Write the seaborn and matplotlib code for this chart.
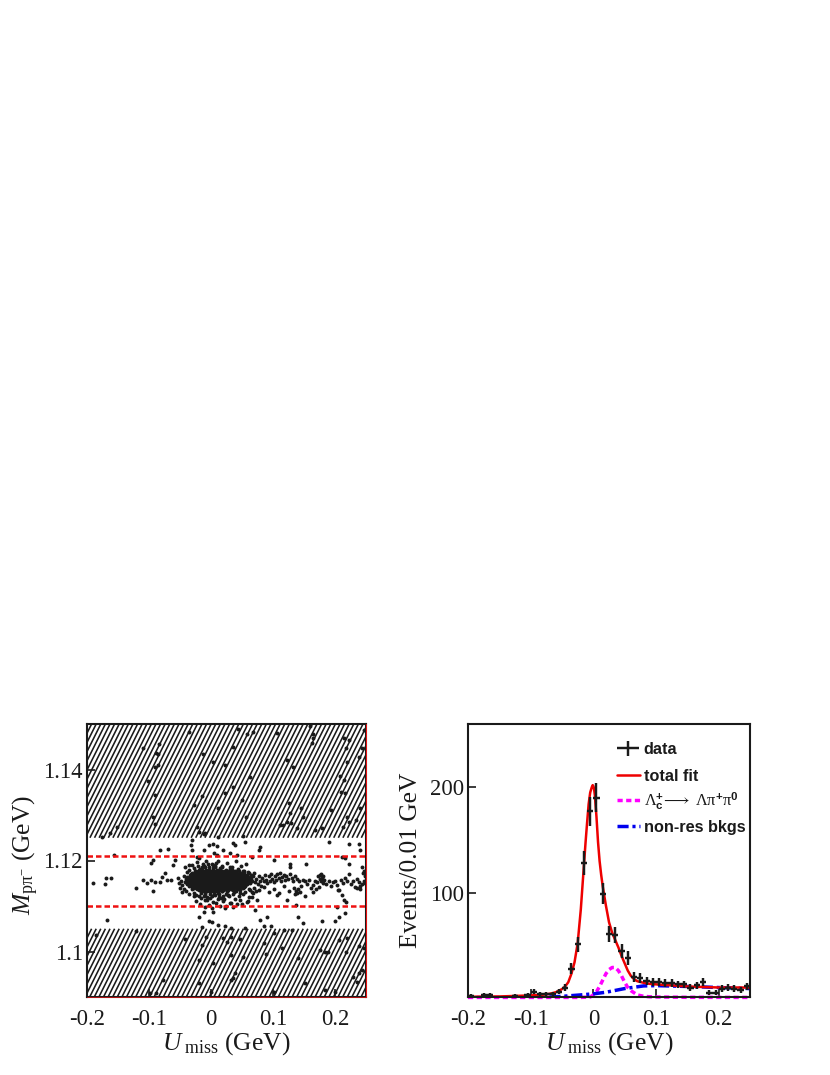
import matplotlib
matplotlib.use("Agg")
import numpy as np
import pandas as pd
import seaborn as sns
import matplotlib.pyplot as plt
from matplotlib.collections import LineCollection
from matplotlib.container import ErrorbarContainer
from matplotlib.legend_handler import HandlerErrorbar

sns.set_theme(style="ticks")
plt.rcParams['font.family'] = ['Liberation Serif', 'DejaVu Serif']
plt.rcParams['text.color'] = 'k'
plt.rcParams['mathtext.fontset'] = 'custom'
plt.rcParams['mathtext.rm'] = 'Liberation Serif'
plt.rcParams['mathtext.it'] = 'Liberation Serif:italic'
plt.rcParams['mathtext.bf'] = 'Liberation Sans:bold'
plt.rcParams['mathtext.fallback'] = 'stix'

# ---- scatter panel: points ----
upper_x = [-0.176,-0.163,-0.152,-0.110,-0.084,-0.088,-0.085,-0.091,-0.085,-0.101,-0.090,-0.093,-0.091,-0.036,-0.013,0.004,0.023,0.036,0.044,0.058,0.067,0.063,0.036,0.023,-0.015,-0.027,0.012,0.050,0.057,-0.023,-0.020,-0.012,-0.010,-0.030,0.012,0.052,0.106,0.122,0.133,0.125,0.145,0.149,0.128,0.111,0.116,0.122,0.129,0.138,0.168,0.179,0.160,0.164,0.163,0.165,0.215,0.222,0.218,0.243,0.238,0.247,0.220,0.208,0.214,0.209,0.216,0.241,0.193,0.219,0.222,0.234,0.213]
upper_y = [1.1252,1.1261,1.1273,1.1448,1.1455,1.1436,1.1433,1.1405,1.1410,1.1375,1.1344,1.1296,1.1280,1.1483,1.1433,1.1417,1.1410,1.1450,1.1490,1.1479,1.1483,1.1384,1.1362,1.1348,1.1342,1.1322,1.1316,1.1333,1.1296,1.1273,1.1263,1.1258,1.1261,1.1246,1.1252,1.1254,1.1481,1.1421,1.1406,1.1327,1.1315,1.1295,1.1304,1.1278,1.1278,1.1285,1.1283,1.1271,1.1267,1.1271,1.1496,1.1478,1.1458,1.1469,1.1469,1.1465,1.1447,1.1447,1.1428,1.1487,1.1417,1.1386,1.1378,1.1351,1.1349,1.1315,1.1311,1.1296,1.1285,1.1289,1.1273]

lower_x = [-0.185,-0.121,-0.042,-0.008,0.020,0.033,0.025,0.047,-0.015,0.085,0.101,0.117,0.130,0.114,0.089,0.052,0.033,-0.019,0.003,0.141,0.176,0.184,0.188,0.207,0.219,0.238,0.247,0.218,0.243,0.238,0.229,0.235,0.039,0.036,0.032,-0.020,-0.077,-0.088,-0.099,0.000,0.101,0.200,0.152,0.184]
lower_y = [1.1036,1.1046,1.1027,1.1031,1.1029,1.1032,1.1021,1.1027,1.1014,1.1019,1.1040,1.1047,1.1047,1.1007,1.0994,1.0987,1.0992,1.0981,1.0974,1.0985,1.1003,1.0998,1.0999,1.1025,1.1029,1.1012,1.1007,1.0999,1.0960,1.0952,1.0944,1.0933,1.0952,1.0941,1.0937,1.0930,1.0937,1.0908,1.0909,1.0911,1.0910,1.0910,1.0930,1.0915]

band_x = [-0.190,-0.171,-0.169,-0.161,-0.156,-0.167,-0.121,-0.110,-0.103,-0.097,-0.094,-0.090,-0.082,-0.079,-0.074,-0.071,-0.064,-0.096,-0.093,-0.082,-0.070,-0.058,-0.061,-0.053,-0.051,-0.050,-0.047,-0.042,-0.036,-0.031,-0.033,-0.023,-0.020,-0.012,-0.004,0.004,0.010,0.005,0.009,0.020,0.035,0.039,0.031,0.042,0.055,0.079,0.077,0.066,0.101,0.128,0.127,0.153,0.190,0.222,0.238,0.241,0.211,0.216,0.222,0.243,
          -0.020,-0.012,-0.004,0.001,0.003,-0.015,0.012,0.023,0.033,0.031,0.023,0.055,0.071,0.079,0.090,0.085,0.096,0.140,0.148,0.179,0.200,0.207,0.216,0.203,0.214,0.218,0.152,0.137,0.122,0.106,0.066,0.074,
          -0.030,-0.022,-0.012,-0.008,0.002,0.012,0.018,0.026,0.034,0.040,0.048,0.056,-0.028,-0.016,-0.006,0.006,0.016,0.028,0.038,0.052,0.062,-0.024,-0.010,0.004,0.020,0.033,0.046,0.058,-0.018,-0.004,0.008,0.024,0.042,0.060,-0.010,0.002,0.014,0.036,0.050,0.066]
band_y = [1.1150,1.1148,1.1161,1.1162,1.1212,1.1070,1.1140,1.1157,1.1150,1.1157,1.1133,1.1153,1.1153,1.1164,1.1172,1.1157,1.1158,1.1194,1.1201,1.1223,1.1225,1.1201,1.1190,1.1161,1.1150,1.1139,1.1131,1.1186,1.1190,1.1222,1.1234,1.1208,1.1205,1.1223,1.1234,1.1236,1.1232,1.1216,1.1212,1.1222,1.1238,1.1234,1.1216,1.1212,1.1241,1.1229,1.1223,1.1208,1.1201,1.1192,1.1186,1.1192,1.1241,1.1236,1.1236,1.1223,1.1208,1.1205,1.1192,1.1186,
          1.1076,1.1087,1.1067,1.1065,1.1087,1.1053,1.1058,1.1056,1.1051,1.1107,1.1095,1.1051,1.1091,1.1069,1.1075,1.1055,1.1055,1.1075,1.1062,1.1068,1.1068,1.1075,1.1084,1.1098,1.1113,1.1109,1.1122,1.1102,1.1113,1.1124,1.1120,1.1113,
          1.1190,1.1196,1.1188,1.1200,1.1193,1.1199,1.1187,1.1194,1.1186,1.1198,1.1189,1.1193,1.1122,1.1128,1.1119,1.1125,1.1117,1.1124,1.1116,1.1127,1.1120,1.1110,1.1113,1.1108,1.1112,1.1106,1.1114,1.1109,1.1105,1.1102,1.1107,1.1101,1.1104,1.1112,1.1098,1.1096,1.1100,1.1097,1.1104,1.1130]

tail_x = [0.060,0.063,0.066,0.068,0.071,0.073,0.075,0.077,0.079,0.081,0.083,0.085,0.087,0.089,0.091,0.093,0.095,0.097,0.099,0.101,0.103,0.105,0.107,0.109,0.111,0.113,0.115,0.117,0.119,0.121,0.124,0.127,0.130,0.133,0.136,0.139,0.142,0.145,0.148,0.062,0.070,0.078,0.086,0.094,0.102,0.110,0.118,0.126,0.134,0.137,0.141,0.143,0.139,0.135,0.152,0.155,0.158,0.161,0.165,0.168,0.171,0.173,0.175,0.176,0.178,0.179,0.181,0.183,0.174,0.177,0.180,0.186,0.190,0.193,0.197,0.200,0.203,0.207,0.210,0.213,0.216,0.219,0.222,0.226,0.229,0.232,0.235,0.238,0.241,0.243,0.245,0.247,0.248,0.249,0.246,0.240,0.236,0.164,0.169,0.212,0.205]
tail_y = [1.1160,1.1150,1.1155,1.1165,1.1152,1.1160,1.1148,1.1165,1.1156,1.1143,1.1162,1.1155,1.1168,1.1158,1.1150,1.1165,1.1156,1.1170,1.1160,1.1152,1.1166,1.1158,1.1170,1.1161,1.1172,1.1155,1.1163,1.1168,1.1158,1.1166,1.1160,1.1170,1.1162,1.1156,1.1165,1.1160,1.1155,1.1145,1.1157,1.1138,1.1140,1.1135,1.1142,1.1130,1.1138,1.1128,1.1143,1.1132,1.1140,1.1134,1.1137,1.1131,1.1129,1.1127,1.1155,1.1148,1.1157,1.1140,1.1146,1.1156,1.1152,1.1165,1.1160,1.1168,1.1155,1.1162,1.1150,1.1158,1.1142,1.1170,1.1166,1.1149,1.1154,1.1145,1.1152,1.1156,1.1147,1.1135,1.1158,1.1150,1.1162,1.1155,1.1170,1.1148,1.1155,1.1142,1.1160,1.1152,1.1138,1.1148,1.1172,1.1155,1.1165,1.1150,1.1178,1.1145,1.1140,1.1130,1.1138,1.1125,1.1135]

# loose points hugging the dense core
fringe_x = [-0.046,-0.044,-0.048,-0.043,-0.039,-0.036,-0.033,-0.040,-0.035,-0.031,-0.027,-0.024,-0.028,-0.021,-0.017,-0.025,-0.019,-0.013,-0.016,-0.009,-0.005,-0.011,-0.002,0.003,-0.007,0.007,0.011,0.001,0.015,0.019,0.008,0.023,0.027,0.013,0.031,0.035,0.021,0.039,0.043,0.029,0.047,0.051,0.037,0.055,0.059,0.045,0.063,0.067,0.069,0.072,-0.034,-0.026,-0.018,-0.008,0.003,0.012,0.022,0.033,0.044,0.054,-0.030,-0.015,-0.001,0.016,0.030,0.047]
fringe_y = [1.1146,1.1137,1.1155,1.1165,1.1174,1.1180,1.1170,1.1132,1.1127,1.1137,1.1184,1.1176,1.1128,1.1188,1.1181,1.1124,1.1121,1.1192,1.1118,1.1186,1.1193,1.1122,1.1118,1.1190,1.1114,1.1188,1.1116,1.1121,1.1184,1.1121,1.1195,1.1178,1.1124,1.1119,1.1182,1.1126,1.1115,1.1176,1.1181,1.1122,1.1128,1.1178,1.1131,1.1131,1.1174,1.1121,1.1135,1.1128,1.1172,1.1134,1.1163,1.1143,1.1173,1.1135,1.1183,1.1128,1.1168,1.1137,1.1166,1.1141,1.1152,1.1160,1.1147,1.1154,1.1146,1.1158]

# dense core, row by row (row y value, then the x of the points on it)
core_row_y = [1.1185,1.1180,1.1176,1.1172,1.1168,1.1164,1.1160,1.1156,1.1152,1.1148,1.1144,1.1140,1.1136,1.1132,1.1127,
              1.1174,1.1170,1.1166,1.1162,1.1158,1.1154,1.1150,1.1146,1.1142,1.1138,1.1134]
core_row_x = [
 [-0.014,-0.004,0.006,0.018,0.030],
 [-0.020,-0.014,-0.008,-0.003,0.003,0.009,0.015,0.024,0.034,0.044],
 [-0.026,-0.020,-0.016,-0.012,-0.008,-0.004,0.000,0.004,0.008,0.012,0.017,0.023,0.029,0.036,0.045,0.053],
 [-0.030,-0.025,-0.021,-0.018,-0.015,-0.012,-0.009,-0.006,-0.003,0.000,0.003,0.006,0.009,0.012,0.015,0.019,0.023,0.027,0.031,0.036,0.041,0.047,0.054,0.061],
 [-0.034,-0.029,-0.025,-0.022,-0.019,-0.016,-0.013,-0.010,-0.007,-0.004,-0.001,0.002,0.005,0.008,0.011,0.014,0.017,0.020,0.023,0.026,0.029,0.032,0.036,0.040,0.044,0.048,0.053,0.058,0.064],
 [-0.038,-0.033,-0.029,-0.026,-0.023,-0.020,-0.017,-0.014,-0.011,-0.008,-0.005,-0.002,0.001,0.004,0.007,0.010,0.013,0.016,0.019,0.022,0.025,0.028,0.031,0.034,0.037,0.040,0.043,0.046,0.050,0.054,0.058,0.063],
 [-0.041,-0.036,-0.031,-0.028,-0.025,-0.022,-0.019,-0.016,-0.013,-0.010,-0.007,-0.004,-0.001,0.002,0.005,0.008,0.011,0.014,0.017,0.020,0.023,0.026,0.029,0.032,0.035,0.038,0.041,0.044,0.047,0.050,0.053,0.056,0.060,0.065],
 [-0.040,-0.035,-0.030,-0.027,-0.024,-0.021,-0.018,-0.015,-0.012,-0.009,-0.006,-0.003,0.000,0.003,0.006,0.009,0.012,0.015,0.018,0.021,0.024,0.027,0.030,0.033,0.036,0.039,0.042,0.045,0.048,0.051,0.054,0.058,0.063],
 [-0.042,-0.036,-0.031,-0.027,-0.024,-0.021,-0.018,-0.015,-0.012,-0.009,-0.006,-0.003,0.000,0.003,0.006,0.009,0.012,0.015,0.018,0.021,0.024,0.027,0.030,0.033,0.036,0.039,0.042,0.045,0.049,0.053,0.057,0.062],
 [-0.038,-0.032,-0.027,-0.023,-0.020,-0.017,-0.014,-0.011,-0.008,-0.005,-0.002,0.001,0.004,0.007,0.010,0.013,0.016,0.019,0.022,0.025,0.028,0.032,0.036,0.040,0.044,0.048,0.053,0.058],
 [-0.036,-0.029,-0.024,-0.020,-0.016,-0.013,-0.010,-0.007,-0.004,-0.001,0.002,0.005,0.008,0.011,0.014,0.017,0.020,0.024,0.028,0.033,0.038,0.043,0.049,0.055],
 [-0.028,-0.021,-0.016,-0.012,-0.008,-0.004,0.000,0.004,0.008,0.012,0.016,0.020,0.025,0.031,0.037,0.045,0.052],
 [-0.020,-0.014,-0.009,-0.004,0.001,0.005,0.009,0.014,0.020,0.027,0.035,0.047],
 [-0.016,-0.008,-0.002,0.004,0.010,0.017,0.026,0.041],
 [-0.010,-0.001,0.005,0.013,0.024],
 [-0.018,-0.010,-0.002,0.006,0.014,0.021,0.026,0.033,0.039],
 [-0.027,-0.019,-0.011,-0.005,0.001,0.007,0.013,0.018,0.025,0.030,0.034,0.038,0.044,0.050],
 [-0.031,-0.024,-0.018,-0.012,-0.006,0.000,0.006,0.012,0.018,0.024,0.030,0.035,0.039,0.042,0.046,0.051,0.056],
 [-0.034,-0.027,-0.021,-0.015,-0.009,-0.003,0.003,0.009,0.015,0.021,0.027,0.033,0.038,0.041,0.045,0.049,0.052,0.056,0.060],
 [-0.037,-0.030,-0.023,-0.017,-0.011,-0.005,0.001,0.007,0.013,0.019,0.025,0.031,0.037,0.040,0.043,0.046,0.049,0.052,0.055,0.059],
 [-0.038,-0.032,-0.025,-0.019,-0.013,-0.007,-0.001,0.005,0.011,0.017,0.023,0.029,0.034,0.038,0.041,0.044,0.047,0.050,0.053,0.056,0.060],
 [-0.039,-0.033,-0.026,-0.020,-0.014,-0.008,-0.002,0.004,0.010,0.016,0.022,0.028,0.033,0.037,0.040,0.043,0.046,0.050,0.054,0.058],
 [-0.034,-0.028,-0.022,-0.016,-0.010,-0.004,0.002,0.008,0.014,0.020,0.026,0.030,0.034,0.038,0.042,0.046,0.050,0.055],
 [-0.030,-0.024,-0.018,-0.012,-0.006,0.000,0.006,0.012,0.018,0.023,0.027,0.031,0.035,0.040,0.046],
 [-0.022,-0.015,-0.009,-0.003,0.003,0.009,0.015,0.021,0.028,0.034,0.042],
 [-0.012,-0.006,0.000,0.007,0.012,0.018,0.025],
]

cut_lo = 1.105
cut_hi = 1.125
sig_lo = 1.110
sig_hi = 1.121

# ---- histogram panel: bins ----
bin_x = [-0.195,-0.175,-0.165,-0.125,-0.105,-0.095,-0.085,-0.075,-0.065,-0.055,-0.045,-0.035,-0.025,-0.015,-0.005,0.005,0.015,0.025,0.035,0.045,0.055,0.065,0.075,0.085,0.095,0.105,0.115,0.125,0.135,0.145,0.155,0.165,0.175,0.185,0.195,0.205,0.215,0.225,0.235,0.245]
bin_n = [2,3,3,2,3,6,4,4,3.5,6,10,28,51,128,177,190,99,61,60,45,38,20,19,16,15,15,14,14,13,13,10,12,15,5,5,9,10,9,8,11]
bin_e = [1.4,1.7,1.7,1.4,1.7,2.4,2,2,1.9,2.4,3.2,5.3,7.1,11.3,13.3,13.8,9.9,7.8,7.7,6.7,6.2,4.5,4.4,4,3.9,3.9,3.7,3.7,3.6,3.6,3.2,3.5,3.9,2.2,2.2,3,3.2,3,2.8,3.3]
bin_half = [0.005] * len(bin_x)

total_x = [-0.2,-0.15,-0.1,-0.08,-0.07,-0.06,-0.05,-0.045,-0.04,-0.035,-0.03,-0.025,-0.02,-0.015,-0.0125,-0.01,-0.0075,-0.005,-0.0025,-0.001,0.0,0.001,0.0025,0.005,0.0075,0.01,0.0125,0.015,0.02,0.025,0.03,0.035,0.04,0.045,0.05,0.055,0.06,0.065,0.07,0.08,0.09,0.1,0.125,0.15,0.2,0.25]
total_y = [1.2,1.5,2.5,3.2,4,5.5,8.5,11,15,23,34,52,84,126,147,166,184,195,200,202,201,199,192,172,148,130,117,106,88,72,62,55,48,40,33,26,21,18,16,14.5,13.5,13,12,11,10,10]
res_x = [-0.2,-0.02,-0.005,0.0,0.005,0.01,0.015,0.02,0.025,0.03,0.035,0.04,0.045,0.05,0.055,0.06,0.07,0.08,0.09,0.1,0.15,0.25]
res_y = [0.6,0.6,1,3,6,11,17,23,27,29,29,26,21,15,10,7,3,1.7,1.2,1,0.7,0.6]
bkg_x = [-0.07,-0.05,-0.02,0.0,0.02,0.05,0.08,0.1,0.15,0.2,0.25]
bkg_y = [1.0,1.6,3,4,5.5,9,11.5,11.8,11,10,9]

x_ticks = [-0.2,-0.1,0,0.1,0.2]
x_tick_labels = ['-0.2','-0.1','0','0.1','0.2']
y_ticks_left = [1.1,1.12,1.14]
y_tick_labels_left = ['1.1','1.12','1.14']
y_ticks_right = [100,200]
y_tick_labels_right = ['100','200']

W, H = 830, 1075
fig = plt.figure(figsize=(W/100, H/100), dpi=100)
axL = fig.add_axes([87/W, (H-997)/H, 279/W, 273/H])
axR = fig.add_axes([468/W, (H-997)/H, 282/W, 273/H])

# ---- left panel ----
axL.set_xlim(-0.2, 0.25)
axL.set_ylim(1.09, 1.15)
for lo, hi in ((1.09, cut_lo), (cut_hi, 1.15)):
    f0 = (lo-1.09)/0.06
    f1 = (hi-1.09)/0.06
    lean = 0.5 * (f1-f0) * 273/279
    starts = np.arange(-lean, 1.0, 4.6/279)
    segs = [[(s, f0), (s+lean, f1)] for s in starts]
    axL.add_collection(LineCollection(segs, colors='k', linewidths=1.15,
                                      transform=axL.transAxes, zorder=1))

core_x = [v for row in core_row_x for v in row]
core_y = [y for y, row in zip(core_row_y, core_row_x) for _ in row]
pts = pd.DataFrame({'u': upper_x+lower_x+band_x+tail_x+fringe_x+core_x,
                    'm': upper_y+lower_y+band_y+tail_y+fringe_y+core_y})
sns.scatterplot(data=pts, x='u', y='m', color='k', s=8, linewidth=0, ax=axL, zorder=3, legend=False)
for v in (sig_lo, sig_hi):
    axL.axhline(v, color='#ee1111', lw=1.8, dashes=(2.2, 1.2), zorder=4)
axL.axvline(0.25, color='#ee1111', lw=0.7, zorder=6, clip_on=False)
axL.axhline(1.09, color='#ee1111', lw=0.5, zorder=6, clip_on=False)

# ---- right panel ----
axR.set_xlim(-0.2, 0.25)
axR.set_ylim(1, 260)
axR.errorbar(bin_x, bin_n, xerr=bin_half, yerr=bin_e, fmt='none', ecolor='k',
             elinewidth=1.75, capsize=0, label='data', zorder=4)
sns.lineplot(x=total_x, y=total_y, color='#ee0000', lw=1.8, ax=axR, sort=False,
             estimator=None, label='total fit', zorder=3)
res_label = r'$\Lambda_{\mathbf{c}}^{\mathbf{+}}\!\longrightarrow\ \Lambda\mathrm{\pi}^{\mathbf{+}}\mathrm{\pi}^{\mathbf{0}}$'
sns.lineplot(x=res_x, y=res_y, color='#ff00ff', lw=2.5, ax=axR, sort=False, estimator=None,
             dashes=False, label=res_label, zorder=2, clip_on=False).lines[-1].set_dashes((1.5, 1.0))
sns.lineplot(x=bkg_x, y=bkg_y, color='#0000ee', lw=2.5, ax=axR, sort=False, estimator=None,
             dashes=False, label='non-res bkgs', zorder=2).lines[-1].set_dashes((3.2, 1.1, 0.9, 1.1))
h, l = axR.get_legend_handles_labels()
lookup = dict(zip(l, h))
leg_font = {'family': 'Liberation Sans', 'weight': 'bold', 'size': 11.7}
leg_kw = dict(frameon=False, prop=leg_font, loc='upper left', borderaxespad=0, borderpad=0,
              handlelength=1.4, handletextpad=0.25, labelcolor='k',
              handler_map={ErrorbarContainer: HandlerErrorbar(xerr_size=0.68, yerr_size=0.45)})
leg1 = axR.legend([lookup['data'], lookup['total fit']], ['data', 'total fit'],
                  bbox_to_anchor=(149/282, 1-18/273), labelspacing=0.74, **leg_kw)
axR.add_artist(leg1)
axR.legend([lookup[res_label], lookup['non-res bkgs']], [res_label, 'non-res bkgs'],
           bbox_to_anchor=(149/282, 1-66/273), labelspacing=0.5, **leg_kw)

# ---- shared styling ----
for ax, yt, ytl in ((axL, y_ticks_left, y_tick_labels_left), (axR, y_ticks_right, y_tick_labels_right)):
    ax.set_xticks(x_ticks)
    ax.set_xticklabels(x_tick_labels)
    ax.set_yticks(yt)
    ax.set_yticklabels(ytl)
    ax.tick_params(axis='both', which='major', direction='in', length=6, width=1.2,
                   labelsize=16.3, colors='k', top=False, right=False)
    ax.tick_params(axis='y', pad=3)
    ax.tick_params(axis='x', pad=8.5)
    for s in ax.spines.values():
        s.set_linewidth(1.5)
        s.set_color('k')
        s.set_visible(True)
        s.set_zorder(5)
    ax.set_xlabel(r'$U_{\ \mathrm{miss}}$ (GeV)', fontsize=18.4, color='k', va='center')
    ax.xaxis.set_label_coords(0.5, -0.172)

axL.set_ylabel(r'$M_{\mathrm{p}\mathrm{\pi}^{-}}$ (GeV)', fontsize=18.4, color='k', va='center')
axL.yaxis.set_label_coords(-0.219, 0.52)
axR.set_ylabel('Events/0.01 GeV', fontsize=18.4, color='k', va='center')
axR.yaxis.set_label_coords(-0.203, 0.5)

fig.savefig('out.png', dpi=100, facecolor='white')
